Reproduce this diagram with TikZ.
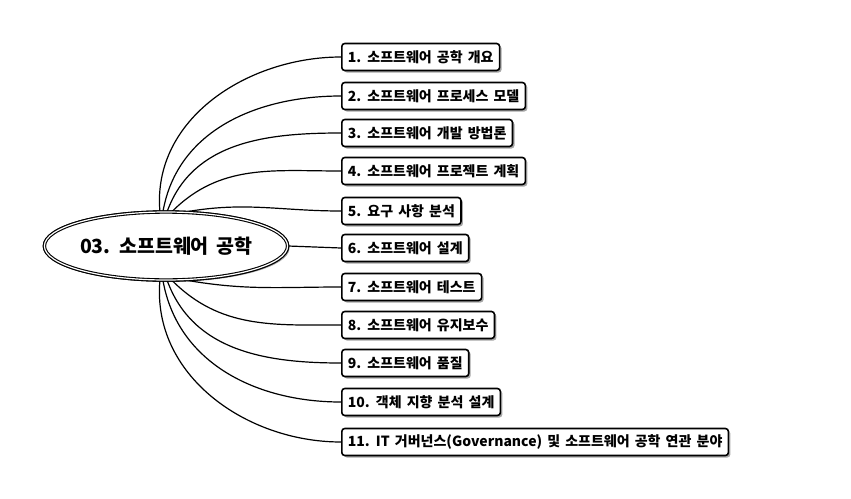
\documentclass[tikz,border=0pt]{standalone}
\usepackage{fontspec}
\setmainfont{Noto Sans CJK KR}[WordSpace={1.6}]
\usetikzlibrary{shadows,shapes.geometric}
\begin{document}
\begin{tikzpicture}[x=1pt,y=-1pt,
 box/.style={draw,line width=1.6pt,rounded corners=3pt,fill=white,anchor=west,minimum height=27pt,inner xsep=6pt,font=\fontsize{14}{16}\selectfont\bfseries,
   drop shadow={shadow xshift=2pt,shadow yshift=-2pt,fill=gray!70,opacity=1}},
 el/.style={draw,double,line width=1.1pt,double distance=1.2pt,ellipse,minimum width=240pt,minimum height=68pt,inner sep=0pt,fill=white,font=\fontsize{19.5}{22}\selectfont\bfseries},
 ln/.style={line width=1.2pt}]
\useasboundingbox (0,0) rectangle (851,498);
\node[el,drop shadow={shadow xshift=2pt,shadow yshift=-2pt,fill=gray!70,opacity=1}] (c) at (166,246) {03. 소프트웨어 공학};
\foreach \i/\y/\t in {1/57/1. 소프트웨어 공학 개요,2/96/2. 소프트웨어 프로세스 모델,3/133/3. 소프트웨어 개발 방법론,4/171/4. 소프트웨어 프로젝트 계획,5/211/5. 요구 사항 분석,6/248/6. 소프트웨어 설계,7/287/7. 소프트웨어 테스트,8/325/8. 소프트웨어 유지보수,9/363/9. 소프트웨어 품질,10/402/10. 객체 지향 분석 설계,11/442/11. IT 거버넌스(Governance) 및 소프트웨어 공학 연관 분야}
  \node[box] (b\i) at (341,\y) {\t};
\draw[ln] (c.100) to[out=95,in=180] (b1.west);
\draw[ln] (c.95) to[out=80,in=180] (b2.west);
\draw[ln] (c.88) to[out=70,in=180] (b3.west);
\draw[ln] (c.80) to[out=45,in=180] (b4.west);
\draw[ln] (c.60) to[out=10,in=180] (b5.west);
\draw[ln] (c.east) -- (b6.west);
\draw[ln] (c.-60) to[out=-10,in=180] (b7.west);
\draw[ln] (c.-80) to[out=-45,in=180] (b8.west);
\draw[ln] (c.-88) to[out=-70,in=180] (b9.west);
\draw[ln] (c.-95) to[out=-80,in=180] (b10.west);
\draw[ln] (c.-100) to[out=-95,in=180] (b11.west);
\node[el] (c2) at (166,246) {03. 소프트웨어 공학};
\end{tikzpicture}
\end{document}
